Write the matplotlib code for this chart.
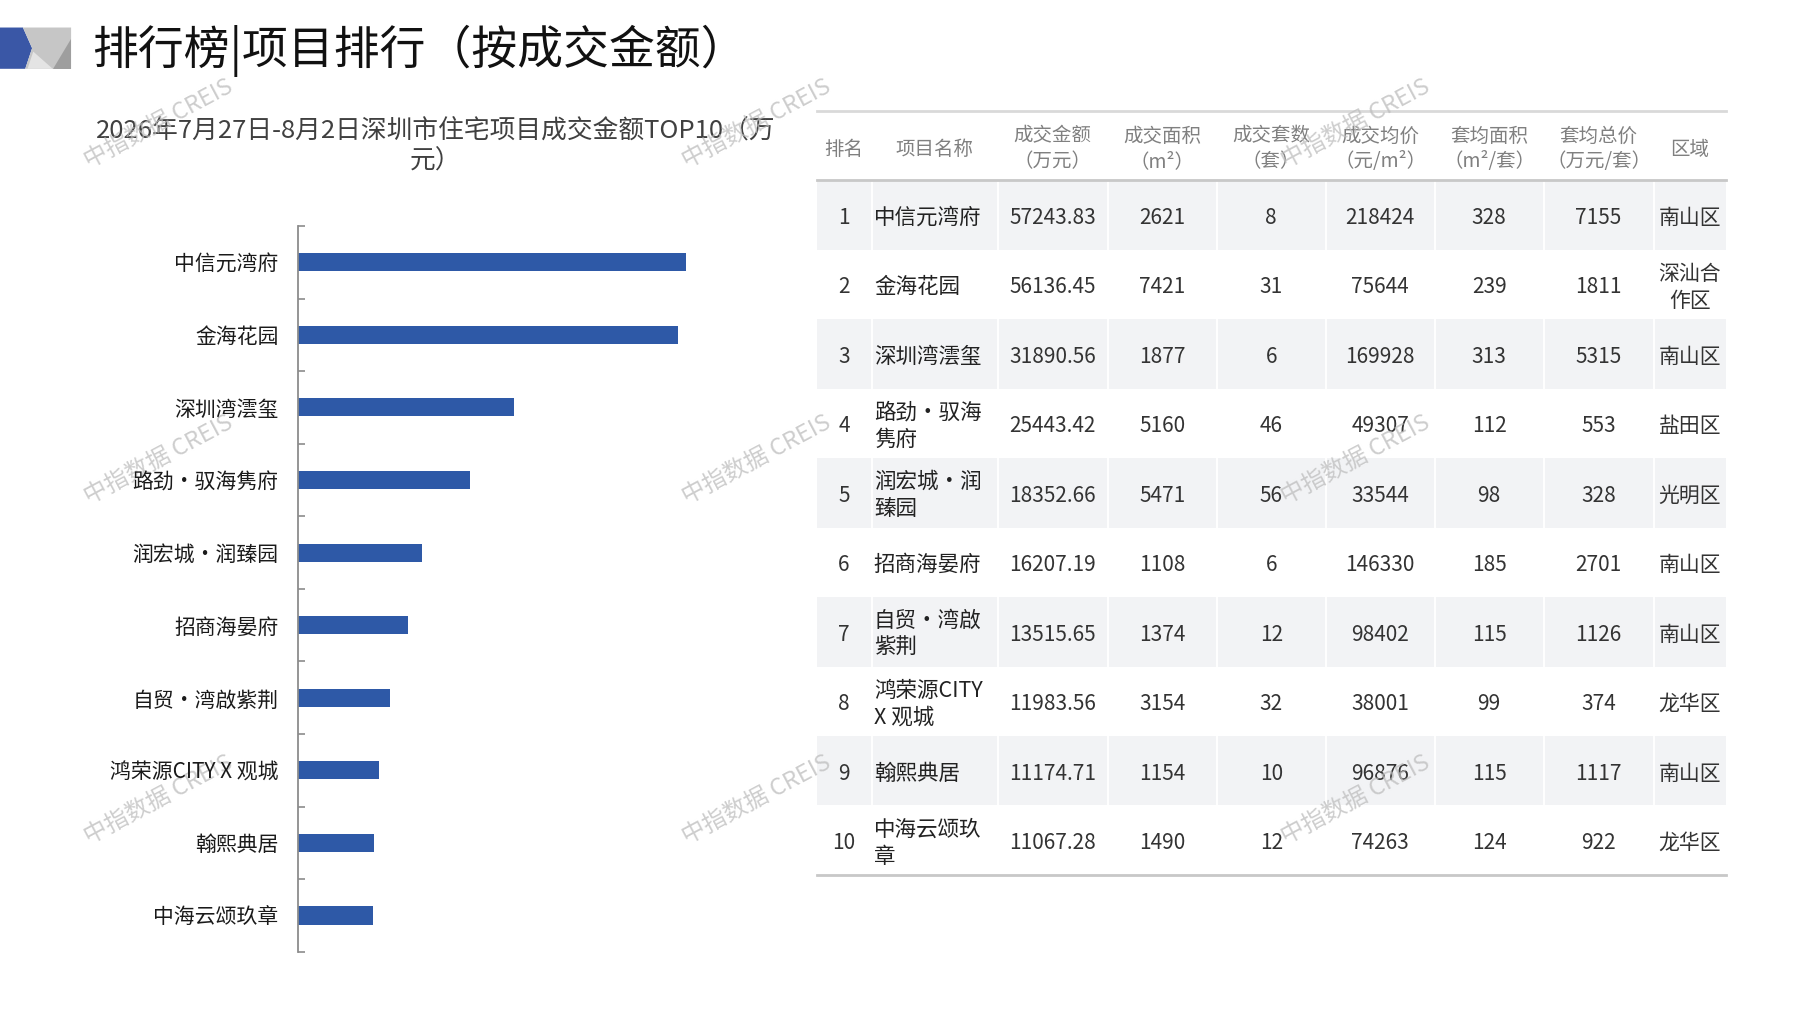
import matplotlib
matplotlib.use("Agg")
import matplotlib.pyplot as plt
from matplotlib.patches import Polygon, Rectangle
from matplotlib.ticker import FixedLocator
import numpy as np

plt.rcParams['font.family'] = ['Noto Sans CJK SC', 'DejaVu Sans']

# ---------------- data ----------------
ranks = [1, 2, 3, 4, 5, 6, 7, 8, 9, 10]
names = ["中信元湾府", "金海花园", "深圳湾澐玺", "路劲•驭海隽府", "润宏城•润臻园",
         "招商海晏府", "自贸•湾啟紫荆", "鸿荣源CITY X 观城", "翰熙典居", "中海云颂玖章"]
names_wrapped = ["中信元湾府", "金海花园", "深圳湾澐玺", "路劲•驭海\n隽府", "润宏城•润\n臻园",
                 "招商海晏府", "自贸•湾啟\n紫荆", "鸿荣源CITY\nX 观城", "翰熙典居", "中海云颂玖\n章"]
amount = [57243.83, 56136.45, 31890.56, 25443.42, 18352.66, 16207.19, 13515.65, 11983.56, 11174.71, 11067.28]
area = [2621, 7421, 1877, 5160, 5471, 1108, 1374, 3154, 1154, 1490]
units = [8, 31, 6, 46, 56, 6, 12, 32, 10, 12]
avg_price = [218424, 75644, 169928, 49307, 33544, 146330, 98402, 38001, 96876, 74263]
avg_area = [328, 239, 313, 112, 98, 185, 115, 99, 115, 124]
avg_total = [7155, 1811, 5315, 553, 328, 2701, 1126, 374, 1117, 922]
district = ["南山区", "深汕合\n作区", "南山区", "盐田区", "光明区", "南山区", "南山区", "龙华区", "南山区", "龙华区"]
headers = ["排名", "项目名称", "成交金额\n（万元）", "成交面积\n（m²）", "成交套数\n（套）",
           "成交均价\n（元/m²）", "套均面积\n（m²/套）", "套均总价\n（万元/套）", "区域"]
page_title = "排行榜|项目排行（按成交金额）"
chart_title = "2026年7月27日-8月2日深圳市住宅项目成交金额TOP10（万\n元）"
watermark = "中指数据 CREIS"

BAR = "#2E59A7"

W, H = 1797, 1010
UW = 1567.0
UH = UW * H / W
S = W / UW  # layout unit -> pixels

fig = plt.figure(figsize=(W / 100, H / 100), dpi=100)
fig.patch.set_facecolor("white")

# overlay axes in layout units (y downward)
ov = fig.add_axes([0, 0, 1, 1])
ov.set_xlim(0, UW)
ov.set_ylim(UH, 0)
ov.axis("off")
ov.set_zorder(0)

# ---- header icon ----
ov.add_patch(Polygon([(0, 24), (20, 24), (28, 42), (22, 60), (0, 60)], closed=True, fc="#3A57A6", ec="none"))
ov.add_patch(Polygon([(20, 24), (62, 24), (62, 60), (22, 60), (28, 42)], closed=True, fc="#C6C6C6", ec="none"))
ov.add_patch(Polygon([(24, 60), (46, 60), (29, 45)], closed=True, fc="#E4E4E4", ec="none"))
ov.add_patch(Polygon([(46, 60), (62, 60), (62, 34)], closed=True, fc="#9E9E9E", ec="none"))

ov.text(80, 44, page_title, fontsize=33, color="#111111", va="center", ha="left")

# chart title
ov.text(380, 127, chart_title, fontsize=18.5, color="#404040", ha="center", va="center",
        linespacing=1.25)

# ---------------- bar chart ----------------
ax_left = 260 * S / W
ax_top = 197 * S / H
ax_bot = 830 * S / H
px_per_val = (598 - 260) / amount[0]
xmax = 70000
ax_w = xmax * px_per_val * S / W
ax = fig.add_axes([ax_left, 1 - ax_bot, ax_w, ax_bot - ax_top])
ax.set_zorder(1)
ax.patch.set_alpha(0)
y = np.arange(len(names))
ax.barh(y, amount, height=0.25, color=BAR)
ax.set_xlim(0, xmax)
ax.set_ylim(len(names) - 0.5, -0.5)
for s in ["top", "right", "bottom"]:
    ax.spines[s].set_visible(False)
ax.spines["left"].set_color("#8C8C8C")
ax.spines["left"].set_linewidth(1.3)
ax.set_xticks([])
ax.set_yticks(y)
ax.set_yticklabels(names, fontsize=15, color="#1a1a1a")
ax.tick_params(axis="y", which="major", length=0, pad=14)
ax.yaxis.set_minor_locator(FixedLocator(np.arange(-0.5, len(names), 1.0)))
ax.tick_params(axis="y", which="minor", direction="in", length=5, width=1.2, color="#8C8C8C")

# ---------------- table ----------------
col_edges = [712, 760, 870, 966, 1061, 1156, 1251, 1346, 1442, 1505]
head_top, head_bot = 97, 157
row_h = (763 - 157) / 10.0

for i in range(10):
    y0 = head_bot + i * row_h
    if i % 2 == 0:
        ov.add_patch(Rectangle((col_edges[0], y0), col_edges[-1] - col_edges[0], row_h,
                               fc="#F2F3F5", ec="none", zorder=1))
        for xe in col_edges[1:-1]:
            ov.plot([xe, xe], [y0, y0 + row_h], color="white", lw=1.4, zorder=1.5)

ov.plot([col_edges[0], col_edges[-1]], [head_top, head_top], color="#D9D9D9", lw=2, zorder=2)
ov.plot([col_edges[0], col_edges[-1]], [head_bot, head_bot], color="#C8C8C8", lw=2, zorder=2)
ov.plot([col_edges[0], col_edges[-1]], [763, 763], color="#C8C8C8", lw=2, zorder=2)

centers = [(col_edges[k] + col_edges[k + 1]) / 2 for k in range(len(col_edges) - 1)]
for k, h in enumerate(headers):
    ov.text(centers[k], (head_top + head_bot) / 2 + 3, h, fontsize=14, color="#808080",
            ha="center", va="center", linespacing=1.3, zorder=3)

TXT = "#333333"
for i in range(10):
    yc = head_bot + (i + 0.5) * row_h + 2.5
    ov.text(centers[0], yc, str(ranks[i]), fontsize=15, color=TXT, ha="center", va="center", zorder=3)
    ov.text(col_edges[1] + 2, yc, names_wrapped[i], fontsize=15.5, color="#222222", ha="left",
            va="center", linespacing=1.3, zorder=3)
    vals = [f"{amount[i]:.2f}", str(area[i]), str(units[i]), str(avg_price[i]),
            str(avg_area[i]), str(avg_total[i])]
    for k, v in enumerate(vals):
        ov.text(centers[k + 2], yc, v, fontsize=15, color=TXT, ha="center", va="center", zorder=3)
    ov.text(centers[8], yc, district[i], fontsize=15, color="#333333", ha="center", va="center",
            linespacing=1.3, zorder=3)

# ---------------- watermarks ----------------
for wy in [108, 401, 697]:
    for wx in [138, 660, 1182]:
        ov.text(wx, wy, watermark, fontsize=17, color="#BDBDBD", alpha=0.75, rotation=28,
                ha="center", va="center", zorder=10, style="italic")

fig.savefig("out.png", dpi=100, facecolor="white")
